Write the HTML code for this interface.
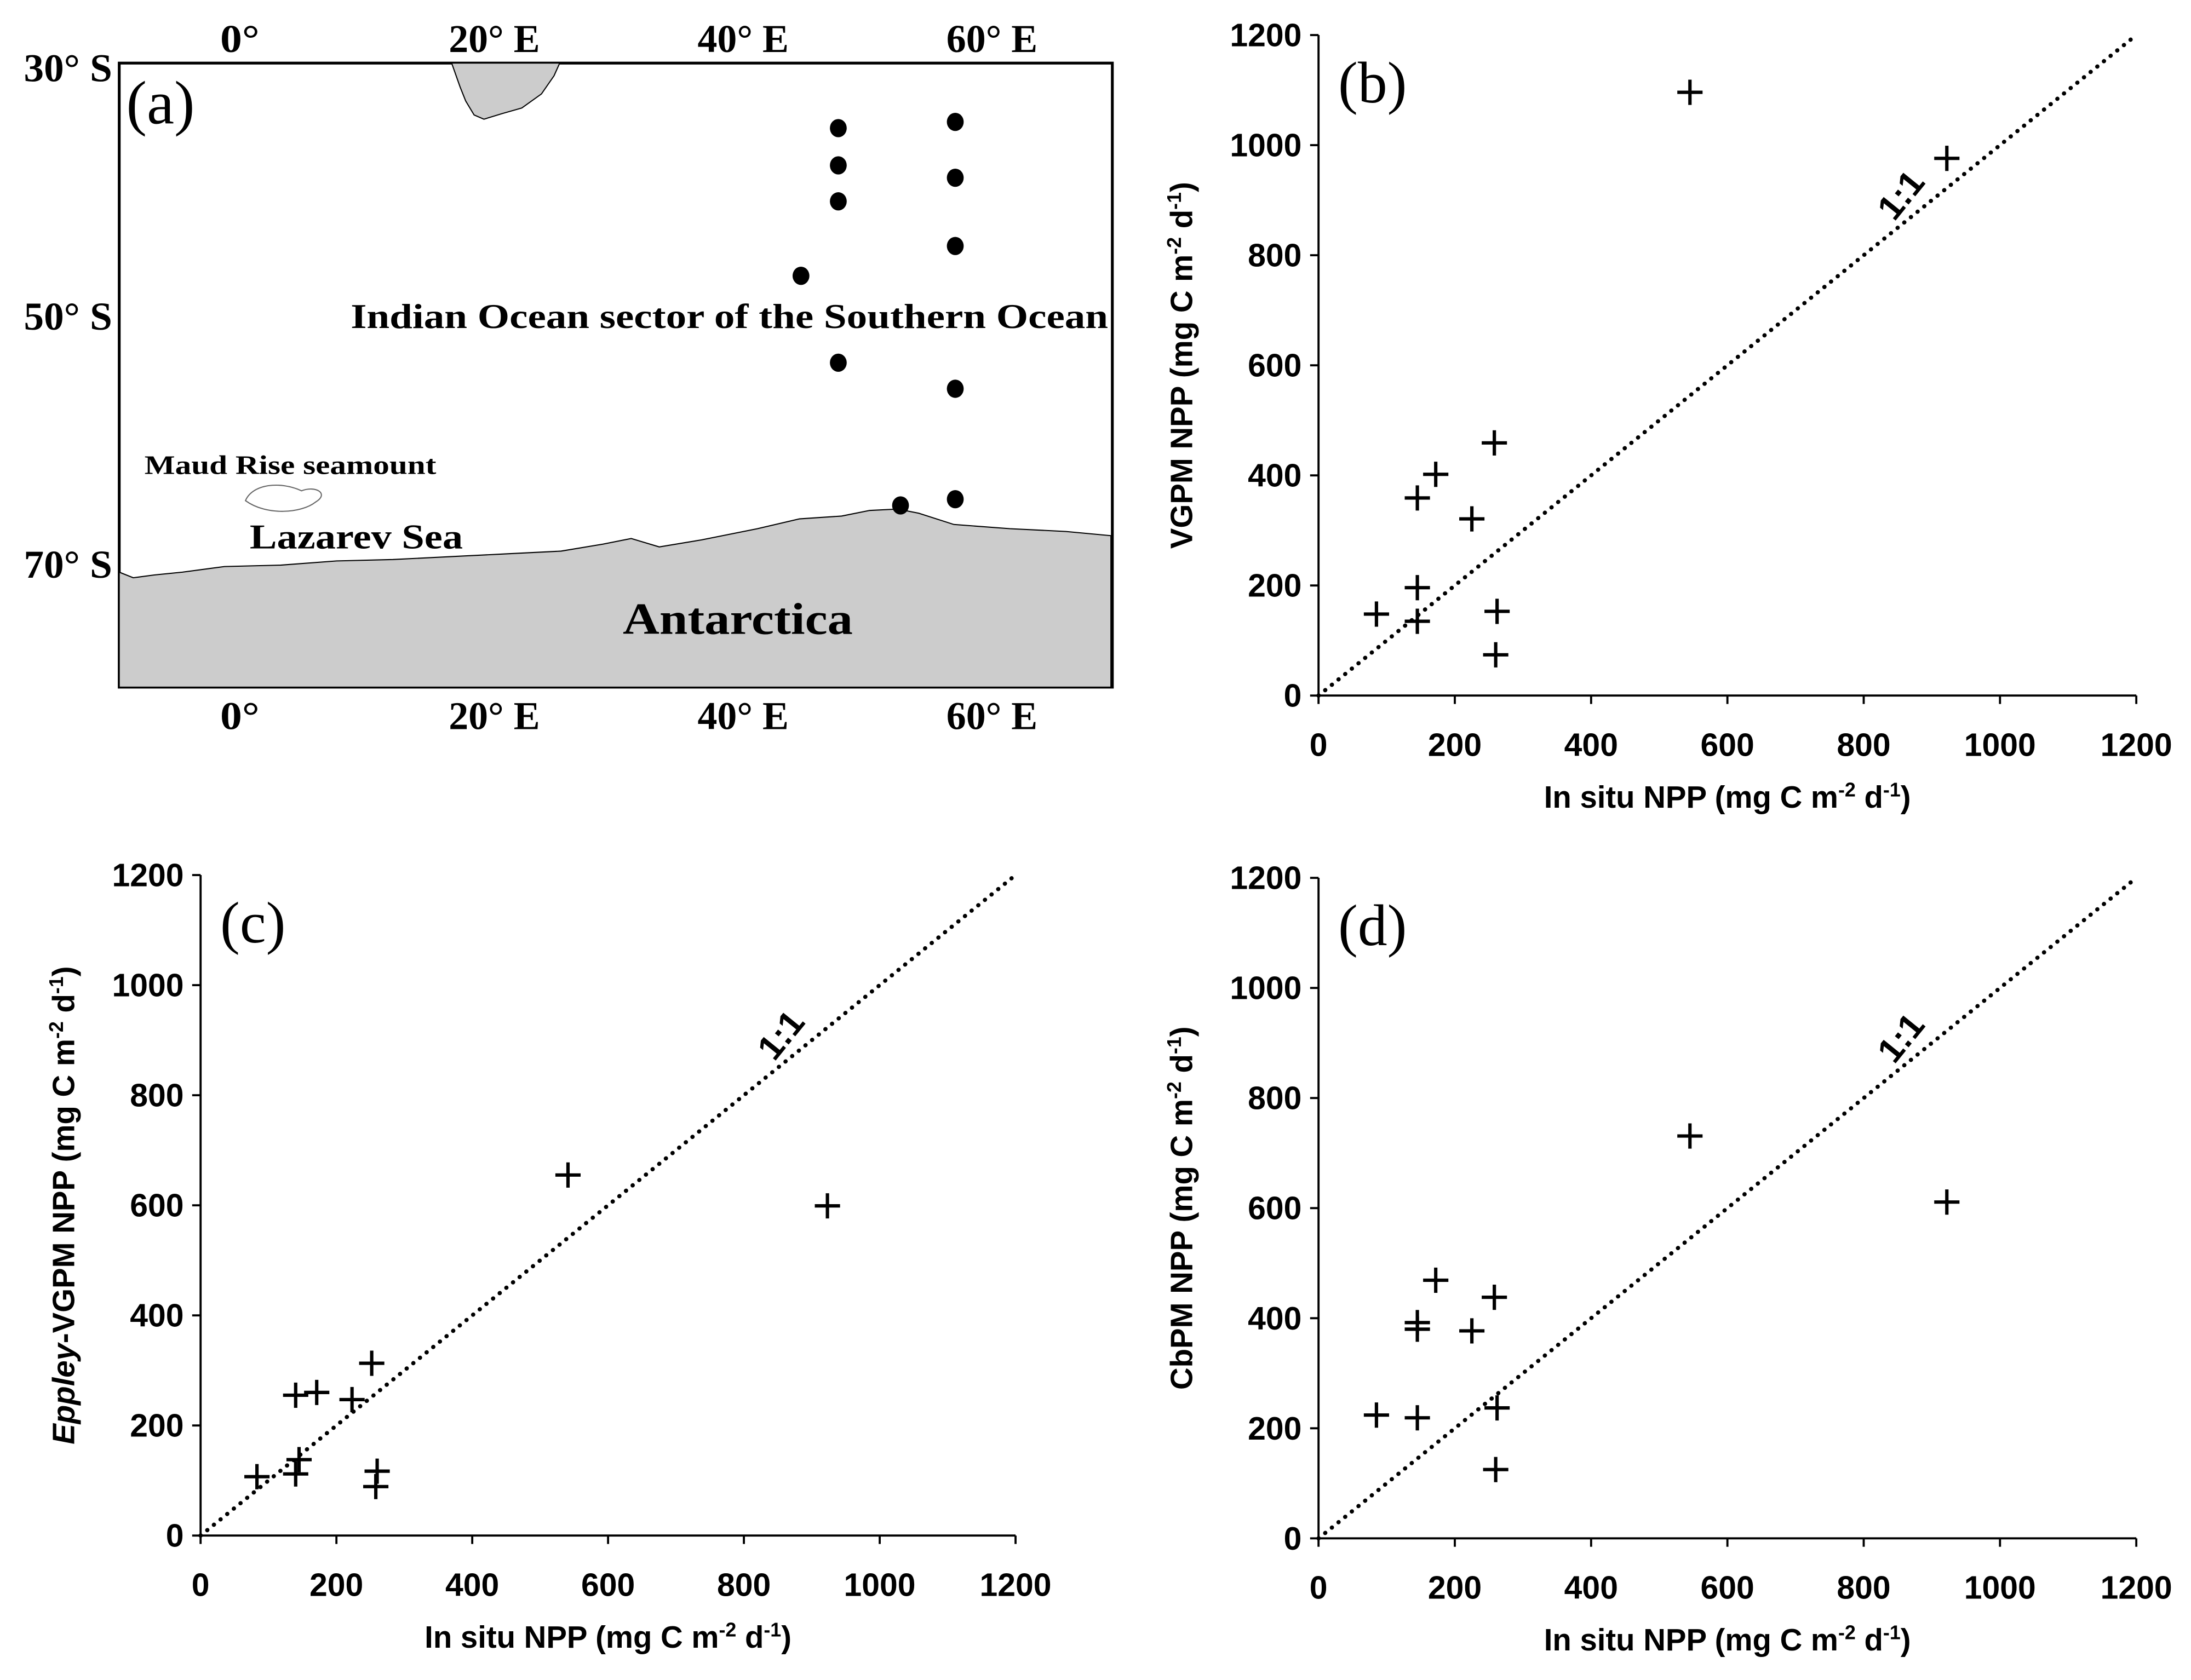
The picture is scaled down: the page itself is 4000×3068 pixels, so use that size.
<!DOCTYPE html>
<html><head><meta charset="utf-8"><style>
html,body{margin:0;padding:0;background:#fff;}
svg{display:block;}
.serif{font-family:"Liberation Serif",serif;font-weight:bold;}
.sans{font-family:"Liberation Sans",sans-serif;font-weight:bold;}
</style></head><body>
<svg id="fig" width="4000" height="3068" viewBox="0 0 1562 1198" preserveAspectRatio="none" xmlns="http://www.w3.org/2000/svg">
<g id="map">
  <rect x="85" y="45" width="708" height="445" fill="#fff" stroke="#000" stroke-width="2"/>
  <path d="M322,45 L328,62 L332,72 L338,82 L345,85 L358,81 L372,77 L386,67 L395,54 L399,45 Z" fill="#cccccc" stroke="#000" stroke-width="0.8"/>
  <path d="M85,408 L95,412 L110,410 L130,408 L160,404 L200,403 L240,400 L280,399 L320,397 L360,395 L400,393 L430,388 L450,384 L470,390 L500,385 L540,377 L570,370 L600,368 L620,364 L640,363 L655,366 L680,374 L720,377 L760,379 L792,382 L792,490 L85,490 Z" fill="#cccccc" stroke="#000" stroke-width="0.8"/>
  <path d="M175,357 C180,345 200,343 215,350 C225,346 235,352 225,358 C215,366 190,368 175,357 Z" fill="none" stroke="#666" stroke-width="0.8"/>
  <g id="dots"></g>
  <text x="90" y="88" class="serif" style="font-weight:normal" font-size="44">(a)</text>
  <text x="250" y="234" class="serif" font-size="25" textLength="540" lengthAdjust="spacingAndGlyphs">Indian Ocean sector of the Southern Ocean</text>
  <text x="103" y="338" class="serif" font-size="19" textLength="208" lengthAdjust="spacingAndGlyphs">Maud Rise seamount</text>
  <text x="178" y="391" class="serif" font-size="25" textLength="152" lengthAdjust="spacingAndGlyphs">Lazarev Sea</text>
  <text x="444" y="452" class="serif" font-size="32" textLength="164" lengthAdjust="spacingAndGlyphs">Antarctica</text>
  <g id="mapticks" class="serif" font-size="28"></g>
</g>
<g id="charts"></g>
</svg>
<script>
// Map data
const lonTicks=[0,20,40,60];
const latTicks=[30,50,70];
const stationLon=[48.1,48.1,48.1,45.1,48.1,57.5,57.5,57.5,57.5,57.5,53.1];
const stationLat=[-34.9,-37.9,-40.8,-46.8,-53.8,-34.4,-38.9,-44.4,-55.9,-64.8,-65.3];
// Scatter data
const inSitu=[85,145,145,145,172,225,258,262,260,545,922];
const vgpm=[148,196,135,359,402,321,459,153,74,1096,976];
const eppley=[107,112,138,255,260,247,313,117,89,655,599];
const eppleyX=[83,140,145,140,171,223,252,260,258,541,923];
const cbpm=[224,219,392,380,469,377,438,237,125,731,611];
const axisTicks=[0,200,400,600,800,1000,1200];

const NS="http://www.w3.org/2000/svg";
function mk(tag,attrs,parent){const e=document.createElementNS(NS,tag);for(const k in attrs)e.setAttribute(k,attrs[k]);parent.appendChild(e);return e;}
const lonX=l=>171+l*8.87;
const latY=l=>48+(-l-30)*8.85;
const dots=document.getElementById('dots');
stationLon.forEach((lo,i)=>{
  const c=mk('ellipse',{cx:lonX(lo),cy:latY(stationLat[i]),rx:6,ry:6.5,fill:'#000'},dots);
  
  
});
const mt=document.getElementById('mapticks');
lonTicks.forEach(l=>{
  const lab=l===0?'0°':l+'° E';
  [37,520].forEach(y=>{
    const t=mk('text',{x:lonX(l)+(l===0?0:4),y:y,'text-anchor':'middle',textLength:(l===0?28:65),lengthAdjust:'spacingAndGlyphs'},mt);
    t.textContent=lab;
    
    
  });
});
latTicks.forEach(l=>{
  const t=mk('text',{x:17,y:latY(-l)+10,textLength:63,lengthAdjust:'spacingAndGlyphs'},mt);
  t.textContent=l+'° S';
  
  
});

const charts=document.getElementById('charts');
function chart(name,ox,oy,w,h,xs,ys,label,ytitle){
  const g=mk('g',{},charts);
  
  
  const sx=v=>ox+v/1200*w, sy=v=>oy-v/1200*h;
  const ax=mk('path',{d:`M${ox},${oy-h} L${ox},${oy} L${ox+w},${oy}`,fill:'none',stroke:'#000','stroke-width':1.5},g);
  
  
  axisTicks.forEach(v=>{
    mk('line',{x1:sx(v),y1:oy,x2:sx(v),y2:oy+6,stroke:'#000','stroke-width':1.5},g);
    mk('line',{x1:ox-6,y1:sy(v),x2:ox,y2:sy(v),stroke:'#000','stroke-width':1.5},g);
    const tx=mk('text',{x:sx(v),y:oy+43,'text-anchor':'middle','font-size':23,class:'sans'},g);
    tx.textContent=v;
    
    
    const ty=mk('text',{x:ox-12,y:sy(v)+8,'text-anchor':'end','font-size':23,class:'sans'},g);
    ty.textContent=v;
    
    
  });
  const one=mk('line',{x1:sx(0),y1:sy(0),x2:sx(1200),y2:sy(1200),stroke:'#000','stroke-width':3,'stroke-dasharray':'0.1 6','stroke-linecap':'round'},g);
  
  
  const ol=mk('text',{x:0,y:0,'font-size':25,class:'sans',transform:`translate(${sx(860)+4},${sy(860)-14}) rotate(-51)`,'text-anchor':'middle'},g);
  ol.textContent='1:1';
  
  
  xs.forEach((x,i)=>{
    const p=mk('path',{d:`M${sx(x)-9},${sy(ys[i])} h18 M${sx(x)},${sy(ys[i])-9} v18`,stroke:'#000','stroke-width':2.4,fill:'none'},g);
    
    
  });
  const pl=mk('text',{x:ox+14,y:oy-h+48,'font-size':42,class:'serif',style:'font-weight:normal'},g);
  pl.textContent=label;
  
  
  const xt=mk('text',{x:ox+w/2,y:oy+80,'text-anchor':'middle','font-size':22,class:'sans'},g);
  xt.innerHTML='In situ NPP (mg C m<tspan font-size="14" dy="-8">-2</tspan><tspan dy="8"> d</tspan><tspan font-size="14" dy="-8">-1</tspan><tspan dy="8">)</tspan>';
  
  
  const yt=mk('text',{x:0,y:0,'text-anchor':'middle','font-size':22,class:'sans',transform:`translate(${ox-90},${oy-h/2}) rotate(-90)`},g);
  yt.innerHTML=ytitle+' (mg C m<tspan font-size="14" dy="-8">-2</tspan><tspan dy="8"> d</tspan><tspan font-size="14" dy="-8">-1</tspan><tspan dy="8">)</tspan>';
  
  
}
chart('chart-b-vgpm',940,496,583,471,inSitu,vgpm,'(b)','VGPM NPP');
chart('chart-c-eppley',143,1095,581,471,eppleyX,eppley,'(c)','<tspan font-style="italic">Eppley</tspan>-VGPM NPP');
chart('chart-d-cbpm',940,1097,583,471,inSitu,cbpm,'(d)','CbPM NPP');
</script>
</body></html>
